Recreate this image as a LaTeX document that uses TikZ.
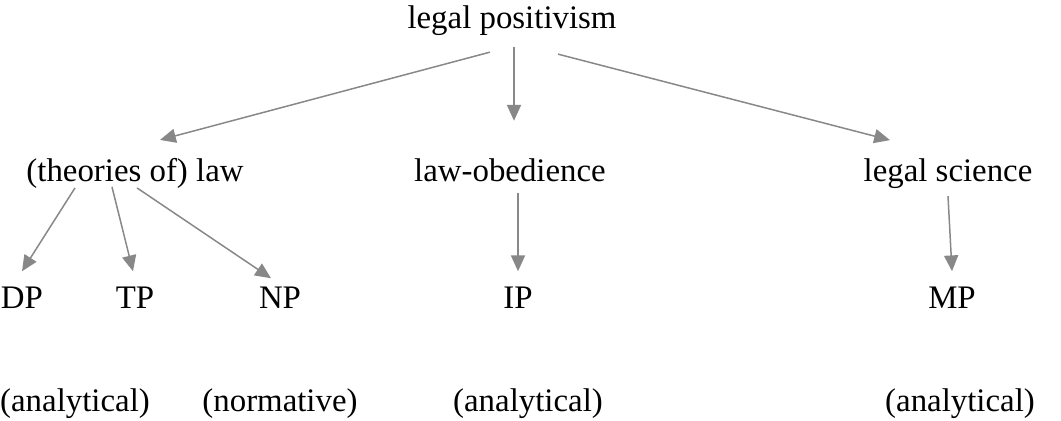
\documentclass[tikz,border=0pt]{standalone}
\usepackage{fontspec}
\setmainfont{Liberation Serif}
\usetikzlibrary{arrows.meta,calc}
\definecolor{linegray}{RGB}{136,136,136}
\tikzset{
  lbl/.style={anchor=base, inner sep=0pt, font=\fontsize{18.7}{22}\selectfont},
  arr/.style={draw=linegray, line width=0.85pt, -{Triangle[length=9pt,width=8pt]}, fill=linegray}
}
\begin{document}
\begin{tikzpicture}[x=0.02cm,y=-0.02cm]
    \useasboundingbox (0,0) rectangle (1061,421);

    \node[lbl] (lp) at (512,29) {legal positivism};

    \node[lbl] (law) at (135,182) {(theories of) law};
    \node[lbl] (obey) at (510,182) {law-obedience};
    \node[lbl] (sci) at (948,182) {legal science};

    \node[lbl] (dp) at (22,309) {DP};
    \node[lbl] (tp) at (135,309) {TP};
    \node[lbl] (np) at (280,309) {NP};
    \node[lbl] (ip) at (518,309) {IP};
    \node[lbl] (mp) at (952,309) {MP};

    \node[lbl] (dpa) at (75,412) {(analytical)};
    \node[lbl] (npa) at (280,412) {(normative)};
    \node[lbl] (ipa) at (528,412) {(analytical)};
    \node[lbl] (mpa) at (960,412) {(analytical)};

    % from the root
    \draw[arr] ($(lp)+(-22,31)$) -- ($(law)+(25,-34)$);
    \draw[arr] ($(lp)+(2,26)$) -- ($(obey)+(4,-50)$);
    \draw[arr] ($(lp)+(46,33)$) -- ($(sci)+(-58,-34)$);

    % from the second row
    \draw[arr] ($(law)+(-60,14)$) -- ($(dp)+(0,-27)$);
    \draw[arr] ($(law)+(-23,13)$) -- ($(tp)+(-2,-27)$);
    \draw[arr] ($(law)+(2,14)$) -- ($(np)+(-9,-20)$);
    \draw[arr] ($(obey)+(8,22)$) -- ($(ip)+(0,-27)$);
    \draw[arr] ($(sci)+(0,22)$) -- ($(mp)+(0,-27)$);
\end{tikzpicture}
\end{document}
